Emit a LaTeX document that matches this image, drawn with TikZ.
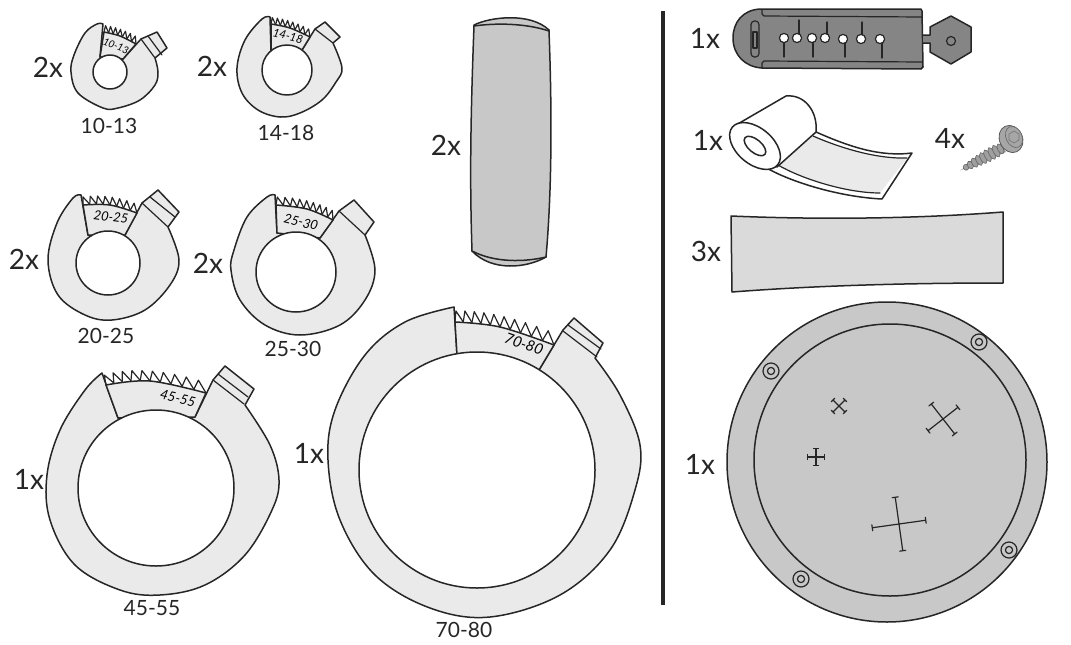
\documentclass[tikz,border=0pt]{standalone}
\usepackage{fontspec}
\setmainfont{Lato}
\definecolor{ringfill}{HTML}{EAEAEA}
\definecolor{padfill}{HTML}{C8C8C8}
\definecolor{sheetfill}{HTML}{DADADA}
\definecolor{keyfill}{HTML}{858585}
\definecolor{ink}{HTML}{262626}
\tikzset{
  ol/.style={draw=ink,line width=1.5pt,line join=round,line cap=round},
  ring/.style={ol,fill=ringfill},
  pad/.style={ol,fill=padfill},
  thin ol/.style={draw=ink,line width=1.2pt,line join=round,line cap=round},
  qty/.style={font=\fontsize{28}{28}\selectfont,text=ink,inner sep=0pt},
  sizecap/.style={font=\fontsize{21}{21}\selectfont,text=ink,inner sep=0pt},
  tag/.style={font=\fontsize{#1}{#1}\selectfont\itshape,text=black,inner sep=0pt},
  hole/.style={ol,fill=white},
  bolt/.style={thin ol},
  outl/.style={smooth,tension=.6},
  declare function={bz(\t,\a,\m,\c)=(1-\t)^2*\a+2*(1-\t)*\t*(2*\m-0.5*\a-0.5*\c)+\t^2*\c;
    bd(\t,\a,\m,\c)=2*(1-\t)*((2*\m-0.5*\a-0.5*\c)-\a)+2*\t*(\c-(2*\m-0.5*\a-0.5*\c));}
}
% #1,#2 start; #3,#4 mid; #5,#6 end; #7 teeth; #8 height
\newcommand{\teethrow}[8]{%
  \foreach \i in {1,...,#7}{%
    \pgfmathsetmacro\ta{(\i-1)/#7}%
    \pgfmathsetmacro\tb{\i/#7}%
    \pgfmathsetmacro\tc{(\i-0.85)/#7}%
    \pgfmathsetmacro\xa{bz(\ta,#1,#3,#5)}%
    \pgfmathsetmacro\ya{bz(\ta,#2,#4,#6)}%
    \pgfmathsetmacro\xb{bz(\tb,#1,#3,#5)}%
    \pgfmathsetmacro\yb{bz(\tb,#2,#4,#6)}%
    \pgfmathsetmacro\xc{bz(\tc,#1,#3,#5)}%
    \pgfmathsetmacro\yc{bz(\tc,#2,#4,#6)}%
    \pgfmathsetmacro\dx{bd(\tc,#1,#3,#5)}%
    \pgfmathsetmacro\dy{bd(\tc,#2,#4,#6)}%
    \pgfmathsetmacro\ln{veclen(\dx,\dy)}%
    \pgfmathsetmacro\xp{\xc+#8*\dy/\ln}%
    \pgfmathsetmacro\yp{\yc-#8*\dx/\ln}%
    \draw[thin ol] (\xa,\ya) -- (\xp,\yp) -- (\xb,\yb);
  }}
\newcommand{\crossmark}[5]{%
  \begin{scope}[shift={(#1,#2)},rotate=#5]
    \draw[bolt] (-#3,0)--(#3,0) (0,-#3)--(0,#3)
      (-#3,-#4)--(-#3,#4) (#3,-#4)--(#3,#4) (-#4,-#3)--(#4,-#3) (-#4,#3)--(#4,#3);
  \end{scope}}
\newcommand{\rivet}[2]{%
  \draw[thin ol] (#1,#2) circle[radius=8];
  \draw[thin ol] (#1,#2) circle[radius=3.6];}
\begin{document}
\begin{tikzpicture}[x=1pt,y=-1pt]
\useasboundingbox (0,0) rectangle (1071,645);
% ---------- ring 10-13
\filldraw[ring] plot[outl] coordinates {(103,24)(97,24)(85,33)(74,55)(71,72)(78,93)(103,108)(118,108)(140,100)(155,85)(158,72)(155,58)}
  -- (167,48) -- (157,32) -- (141,39) -- (123,59) -- (100,57) -- cycle;
\draw[ring] plot[outl] coordinates {(104,32)(120,36)(136,44)} -- (123,59) -- (100,57) -- cycle;
\teethrow{104}{32}{120}{36}{136}{44}{7}{6.5}
\draw[thin ol] (141,39)--(155,58) (148,36)--(162,55);
\filldraw[hole] (110,72) circle[radius=17];
\node[tag=10,rotate=-22] (t1) at (116,46) {10-13};
% ---------- ring 14-18
\filldraw[ring] plot[outl] coordinates {(270,17)(262,19)(245,40)(237,68)(242,93)(258,110)(280,117)(300,113)(322,100)(336,82)(342,68)(333,43)}
  -- (340,37) -- (325,22) -- (315,29) -- (302,50) -- (271,52) -- cycle;
\draw[ring] plot[outl] coordinates {(271,24)(290,28)(310,37)} -- (302,50) -- (271,52) -- cycle;
\teethrow{271}{24}{290}{28}{310}{37}{8}{6.5}
\draw[thin ol] (315,29)--(333,43);
\filldraw[hole] (287,70) circle[radius=25];
\node[tag=11.5,rotate=-14] (t2) at (288,36) {14-18};
% ---------- ring 20-25
\filldraw[ring] plot[outl] coordinates {(81,195)(73,198)(57,223)(48,260)(58,295)(85,315)(112,320)(145,310)(170,285)(179,260)(168,227)}
  -- (179,212) -- (158,190) -- (142,203) -- (125,235) -- (88,235) -- cycle;
\draw[ring] plot[outl] coordinates {(83,205)(110,205)(137,213)} -- (125,235) -- (88,235) -- cycle;
\teethrow{83}{205}{110}{205}{137}{213}{8}{8}
\draw[thin ol] (142,203)--(168,227) (150,197)--(175,217);
\filldraw[hole] (108,263) circle[radius=32];
\node[tag=13,rotate=-8] (t3) at (111,217) {20-25};
% ---------- ring 25-30
\filldraw[ring] plot[outl] coordinates {(275,195)(267,197)(247,217)(234,250)(231,270)(240,300)(265,325)(300,335)(340,325)(365,300)(375,270)(365,235)}
  -- (374,222) -- (354,200) -- (339,211) -- (320,238) -- (277,233) -- cycle;
\draw[ring] plot[outl] coordinates {(276,205)(307,209)(333,220)} -- (320,238) -- (277,233) -- cycle;
\teethrow{276}{205}{307}{209}{333}{220}{9}{8}
\draw[thin ol] (339,211)--(365,235);
\filldraw[hole] (296,272) circle[radius=40];
\node[tag=13,rotate=-14] (t4) at (301,222) {25-30};
% ---------- ring 45-55
\filldraw[ring] plot[outl] coordinates {(102,373)(85,390)(60,430)(47,475)(50,520)(75,565)(120,590)(160,595)(205,585)(245,555)(272,510)(279,480)(270,445)(245,405)}
  -- (254,389) -- (225,366) -- (213,380) -- (195,417) -- (118,418) -- cycle;
\draw[ring] plot[outl] coordinates {(106,385)(150,381)(206,393)} -- (195,417) -- (118,418) -- cycle;
\teethrow{106}{385}{150}{381}{206}{393}{10}{10}
\draw[thin ol] (213,380)--(244,404) (218,374)--(248,397);
\filldraw[hole] (156,488) circle[radius=78];
\node[tag=13.5,rotate=-14] (t5) at (178,398) {45-55};
% ---------- ring 70-80
\filldraw[ring] plot[outl] coordinates {(454,307)(405,322)(365,355)(335,410)(328,460)(340,520)(375,575)(430,608)(490,617)(560,595)(610,550)(635,490)(640,445)(620,395)(595,358)}
  -- (603,343) -- (574,318) -- (563,330) -- (539,370) -- (457,355) -- cycle;
\draw[ring] plot[outl] coordinates {(455,322)(500,327)(554,345)} -- (539,370) -- (457,355) -- cycle;
\teethrow{455}{322}{500}{327}{554}{345}{10}{11}
\draw[thin ol] (563,331)--(597,357) (568,325)--(601,349);
\filldraw[hole] (477,470) circle[radius=118];
\node[tag=15,rotate=-20] (t6) at (524,344) {70-80};
% ---------- bolster
\filldraw[pad] (474,25) .. controls (490,17) and (530,12) .. (549,30) -- (546,257) .. controls (527,268) and (492,272) .. (472,251) -- cycle;
\filldraw[pad] (474,26) .. controls (470,130) and (470,190) .. (472,251) .. controls (495,263) and (525,262) .. (546,257) .. controls (552,190) and (552,110) .. (549,31) .. controls (525,23) and (495,23) .. (474,26) -- cycle;
% ---------- divider
\draw[draw=ink,line width=4pt] (663,11) -- (663,605);
% ---------- key
\filldraw[ol,fill=keyfill] (760,9) .. controls (743,10) and (733,22) .. (733,38) .. controls (733,55) and (745,67) .. (762,68) -- (921,69) -- (923,67) -- (922,11) -- (921,9) -- cycle;
\draw[thin ol] (762,10) -- (762,14) -- (764,16) -- (922,17);
\draw[thin ol] (762,68) -- (762,63) -- (764,61) -- (922,62);
\filldraw[ol,fill=keyfill] (923,35) -- (930,35) -- (930,27) -- (951,16) -- (971,27) -- (971,52) -- (951,64) -- (930,52) -- (930,43) -- (923,43);
\draw[thin ol] (951,41) circle[radius=4.5];
\draw[thin ol,rounded corners=3.5pt] (751,21) rectangle (759,57);
\draw[thin ol] (753,32) rectangle (757,48);
\foreach \hx/\hy/\ly/\lx in {784/38/57/784,797/38/20/799,812/38/57/813,825/38/22/827,843/39/57/845,861/39/22/862,880/39/58/882}{
  \draw[thin ol] (\lx,\hy) -- (\lx,\ly);
  \filldraw[thin ol,fill=white] (\hx,\hy) circle[radius=4.6];
}
% ---------- roll
\filldraw[ol,fill=white] (765,167) .. controls (790,182) and (840,197) .. (882,199) -- (912,153) .. controls (880,157) and (850,147) .. (816,132) -- cycle;
\fill[ringfill] (778,165) .. controls (800,178) and (845,193) .. (880,193) -- (907,158) .. controls (880,159) and (845,150) .. (813,136) -- cycle;
\draw[thin ol] (778,165) .. controls (800,178) and (845,193) .. (880,193) (907,158) .. controls (880,159) and (845,150) .. (813,136);
\filldraw[ol,fill=white] (736,125) -- (786,96) .. controls (805,94) and (818,112) .. (816,132) -- (777,167) -- cycle;
\filldraw[ol,fill=white,rotate around={-40:(755,146)}] (755,146) ellipse[x radius=29.5,y radius=18];
\filldraw[ol,fill=white,rotate around={-40:(755,146)}] (755,146) ellipse[x radius=13,y radius=6.5];
% ---------- screw
\fill[gray!80] (960,170.5) -- (1001,144) -- (1006,152) -- cycle;
\foreach \s/\r in {0.14/3,0.24/4,0.34/5,0.44/5.5,0.54/6,0.64/6.5,0.74/6.5,0.84/6.5,0.94/5.5}{
  \pgfmathsetmacro\sx{960+43*\s}
  \pgfmathsetmacro\sy{170.5-23*\s}
  \filldraw[draw=gray!80!black,fill=gray!75,line width=.6pt,rotate around={28:(\sx,\sy)}] (\sx,\sy) ellipse[x radius=2.8,y radius=\r];
}
\filldraw[draw=gray!70!black,fill=gray!70,line width=.8pt,rotate around={25:(1011,139)}] (1011,139) ellipse[x radius=11.5,y radius=14];
\filldraw[draw=gray!80!black,fill=gray!70,line width=.6pt,rotate around={25:(1014,137)}] (1014,137) ellipse[x radius=8,y radius=11];
\draw[draw=gray!90!black,fill=gray!70,line width=.6pt] (1014,131)--(1019,134)--(1019,140)--(1014,143)--(1009,140)--(1009,134)--cycle;
% ---------- sheet
\filldraw[ol,fill=sheetfill] (731,216) .. controls (800,219) and (900,220) .. (1003,212) -- (1003,283) .. controls (900,283) and (810,286) .. (732,292) -- cycle;
% ---------- disc
\filldraw[ol,fill=padfill] (887,462) circle[x radius=160,y radius=160];
\draw[ol] (890,460) circle[radius=136];
\rivet{771}{371}\rivet{979}{342}\rivet{1009}{550}\rivet{801}{579}
\crossmark{839}{406}{8.5}{2.5}{45}
\crossmark{816}{457}{8.5}{2.5}{0}
\crossmark{943}{419}{19}{3}{38}
\crossmark{899}{524}{27}{3}{8}
% ---------- labels
\node[qty] (q1) at (48,67) {2x};
\node[qty] (q2) at (212,66) {2x};
\node[qty] (q3) at (24,259) {2x};
\node[qty] (q4) at (208,263) {2x};
\node[qty] (q5) at (29,479) {1x};
\node[qty] (q6) at (309,453) {1x};
\node[qty] (q7) at (446,145) {2x};
\node[qty] (q8) at (705,38) {1x};
\node[qty] (q9) at (708,140) {1x};
\node[qty] (q10) at (950,138) {4x};
\node[qty] (q11) at (706,251) {3x};
\node[qty] (q12) at (700,464) {1x};
\node[sizecap] (c1) at (109,126) {10-13};
\node[sizecap] (c2) at (286,133) {14-18};
\node[sizecap] (c3) at (106,336) {20-25};
\node[sizecap] (c4) at (293,349) {25-30};
\node[sizecap] (c5) at (152,608) {45-55};
\node[sizecap] (c6) at (464,630) {70-80};
\end{tikzpicture}
\end{document}
